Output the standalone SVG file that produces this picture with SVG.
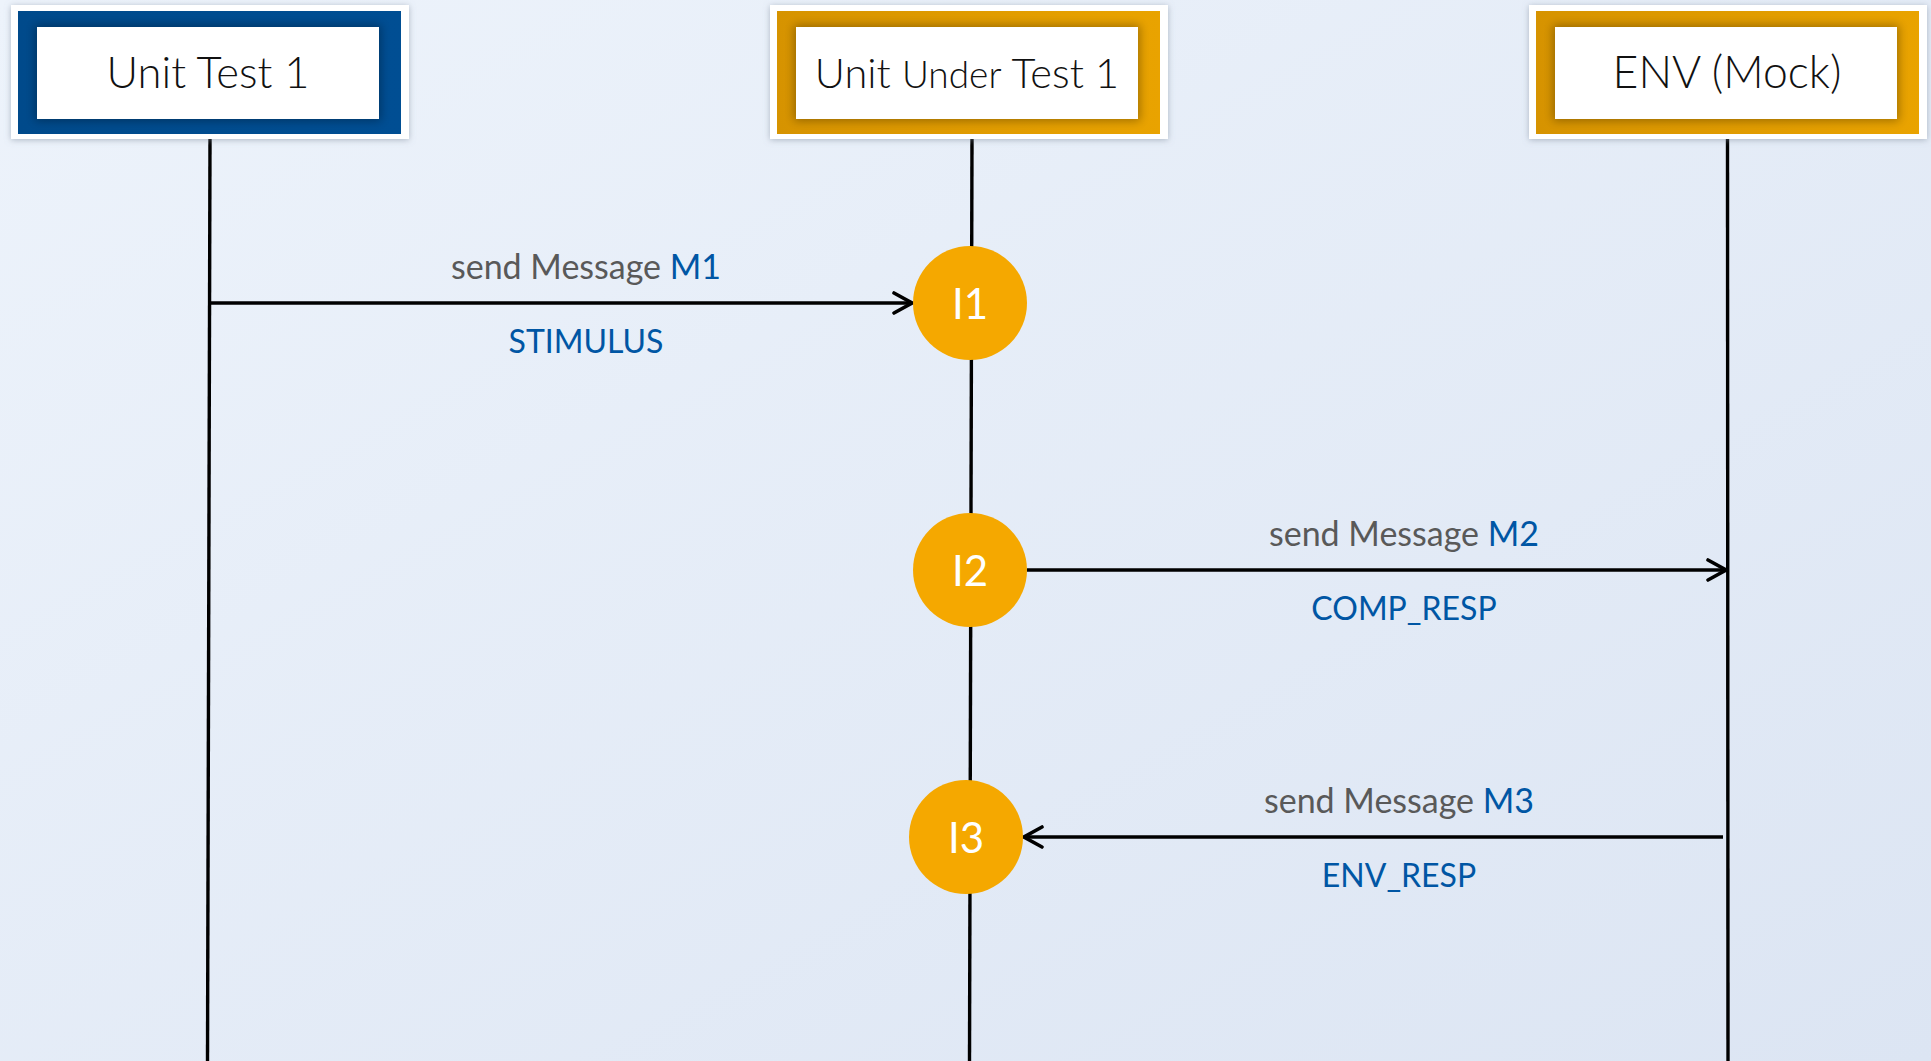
<svg xmlns="http://www.w3.org/2000/svg" width="1931" height="1061" viewBox="0 0 1931 1061">
  <defs>
    <linearGradient id="bg" x1="0" y1="0" x2="1" y2="1">
      <stop offset="0" stop-color="#EDF3FB"/>
      <stop offset="1" stop-color="#DCE5F3"/>
    </linearGradient>
    <linearGradient id="gold" x1="0" y1="0" x2="1" y2="0">
      <stop offset="0" stop-color="#D69300"/>
      <stop offset="1" stop-color="#E9A300"/>
    </linearGradient>
    <linearGradient id="navy" x1="0" y1="0" x2="1" y2="0">
      <stop offset="0" stop-color="#004A8B"/>
      <stop offset="1" stop-color="#004E93"/>
    </linearGradient>
    <filter id="drop" x="-10%" y="-20%" width="120%" height="140%">
      <feGaussianBlur in="SourceAlpha" stdDeviation="3"/>
      <feOffset dx="0" dy="1" result="b"/>
      <feFlood flood-color="#7A8798" flood-opacity="0.55"/>
      <feComposite in2="b" operator="in"/>
      <feMerge><feMergeNode/><feMergeNode in="SourceGraphic"/></feMerge>
    </filter>
    <filter id="soft" x="-20%" y="-40%" width="140%" height="180%">
      <feGaussianBlur stdDeviation="5"/>
    </filter>
    <marker id="arrow" viewBox="0 0 24 24" refX="21" refY="12" markerWidth="24" markerHeight="24" markerUnits="userSpaceOnUse" orient="auto">
      <path d="M3,2 L21,12 L3,22" fill="none" stroke="#000" stroke-width="3.6" stroke-linecap="round" stroke-linejoin="miter"/>
    </marker>
  </defs>
  <style>
    .frame { fill: #FFFFFF; }
    .inner { fill: #FFFFFF; }
    .shade { fill: #000000; opacity: 0.3; }
    .title { font-family: Lato, "Open Sans", "Liberation Sans", sans-serif; font-weight: 300; font-size: 43.5px; fill: #111111; text-anchor: middle; }
    .title.wide { font-size: 41.5px; }
    .title.env { font-size: 44.5px; }
    .small { font-size: 37px; }
    .life { stroke: #000000; stroke-width: 3.4; fill: none; }
    .msg { stroke: #000000; stroke-width: 3.5; fill: none; }
    .point { fill: #F5A800; }
    .pt { font-family: Lato, "Open Sans", "Liberation Sans", sans-serif; font-size: 42px; fill: #FFFFFF; text-anchor: middle; }
    .lbl { font-family: Lato, "Open Sans", "Liberation Sans", sans-serif; font-size: 34px; fill: #595959; text-anchor: middle; }
    .sig { fill: #0056A4; }
    .code { font-family: Lato, "Open Sans", "Liberation Sans", sans-serif; font-size: 32px; fill: #0056A4; text-anchor: middle; }
  </style>

  <rect x="0" y="0" width="1931" height="1061" fill="url(#bg)"/>

  <!-- lifelines -->
  <g id="lifelines">
    <line class="life" x1="210" y1="139" x2="207.5" y2="1061"/>
    <line class="life" x1="972" y1="139" x2="969.5" y2="1061"/>
    <line class="life" x1="1727.5" y1="134" x2="1728" y2="1061"/>
  </g>

  <!-- participants -->
  <g id="unit-test-1">
    <rect class="frame" x="11" y="5" width="398" height="134" filter="url(#drop)"/>
    <rect x="18" y="11" width="383" height="123" fill="url(#navy)"/>
    <rect class="shade" x="35" y="25" width="346" height="96" filter="url(#soft)"/>
    <rect class="inner" x="37" y="27" width="342" height="92"/>
    <text class="title" x="208" y="88">Unit Test 1</text>
  </g>

  <g id="unit-under-test-1">
    <rect class="frame" x="770" y="5" width="398" height="134" filter="url(#drop)"/>
    <rect x="777" y="11" width="383" height="123" fill="url(#gold)"/>
    <rect class="shade" x="794" y="25" width="346" height="96" filter="url(#soft)"/>
    <rect class="inner" x="796" y="27" width="342" height="92"/>
    <text class="title wide" x="967" y="88">Unit <tspan class="small">Under</tspan> Test 1</text>
  </g>

  <g id="env-mock">
    <rect class="frame" x="1529" y="5" width="398" height="134" filter="url(#drop)"/>
    <rect x="1536" y="11" width="383" height="123" fill="url(#gold)"/>
    <rect class="shade" x="1553" y="25" width="346" height="96" filter="url(#soft)"/>
    <rect class="inner" x="1555" y="27" width="342" height="92"/>
    <text class="title env" x="1727" y="88">ENV (Mock)</text>
  </g>

  <!-- messages -->
  <g id="connectors">
    <line class="msg" x1="210" y1="303" x2="912" y2="303" marker-end="url(#arrow)"/>
    <line class="msg" x1="1027" y1="570" x2="1726" y2="570" marker-end="url(#arrow)"/>
    <line class="msg" x1="1723" y1="837" x2="1024" y2="837" marker-end="url(#arrow)"/>
  </g>

  <g id="labels">
    <text class="lbl" x="586" y="279">send Message <tspan class="sig">M1</tspan></text>
    <text class="code" x="586" y="353">STIMULUS</text>
    <text class="lbl" x="1404" y="546">send Message <tspan class="sig">M2</tspan></text>
    <text class="code" x="1404" y="620">COMP_RESP</text>
    <text class="lbl" x="1399" y="813">send Message <tspan class="sig">M3</tspan></text>
    <text class="code" x="1399" y="887">ENV_RESP</text>
  </g>

  <!-- interaction points -->
  <g id="i1">
    <circle class="point" cx="970" cy="303" r="57"/>
    <text class="pt" x="970" y="319">I1</text>
  </g>
  <g id="i2">
    <circle class="point" cx="970" cy="570" r="57"/>
    <text class="pt" x="970" y="586">I2</text>
  </g>
  <g id="i3">
    <circle class="point" cx="966" cy="837" r="57"/>
    <text class="pt" x="966" y="853">I3</text>
  </g>
</svg>
